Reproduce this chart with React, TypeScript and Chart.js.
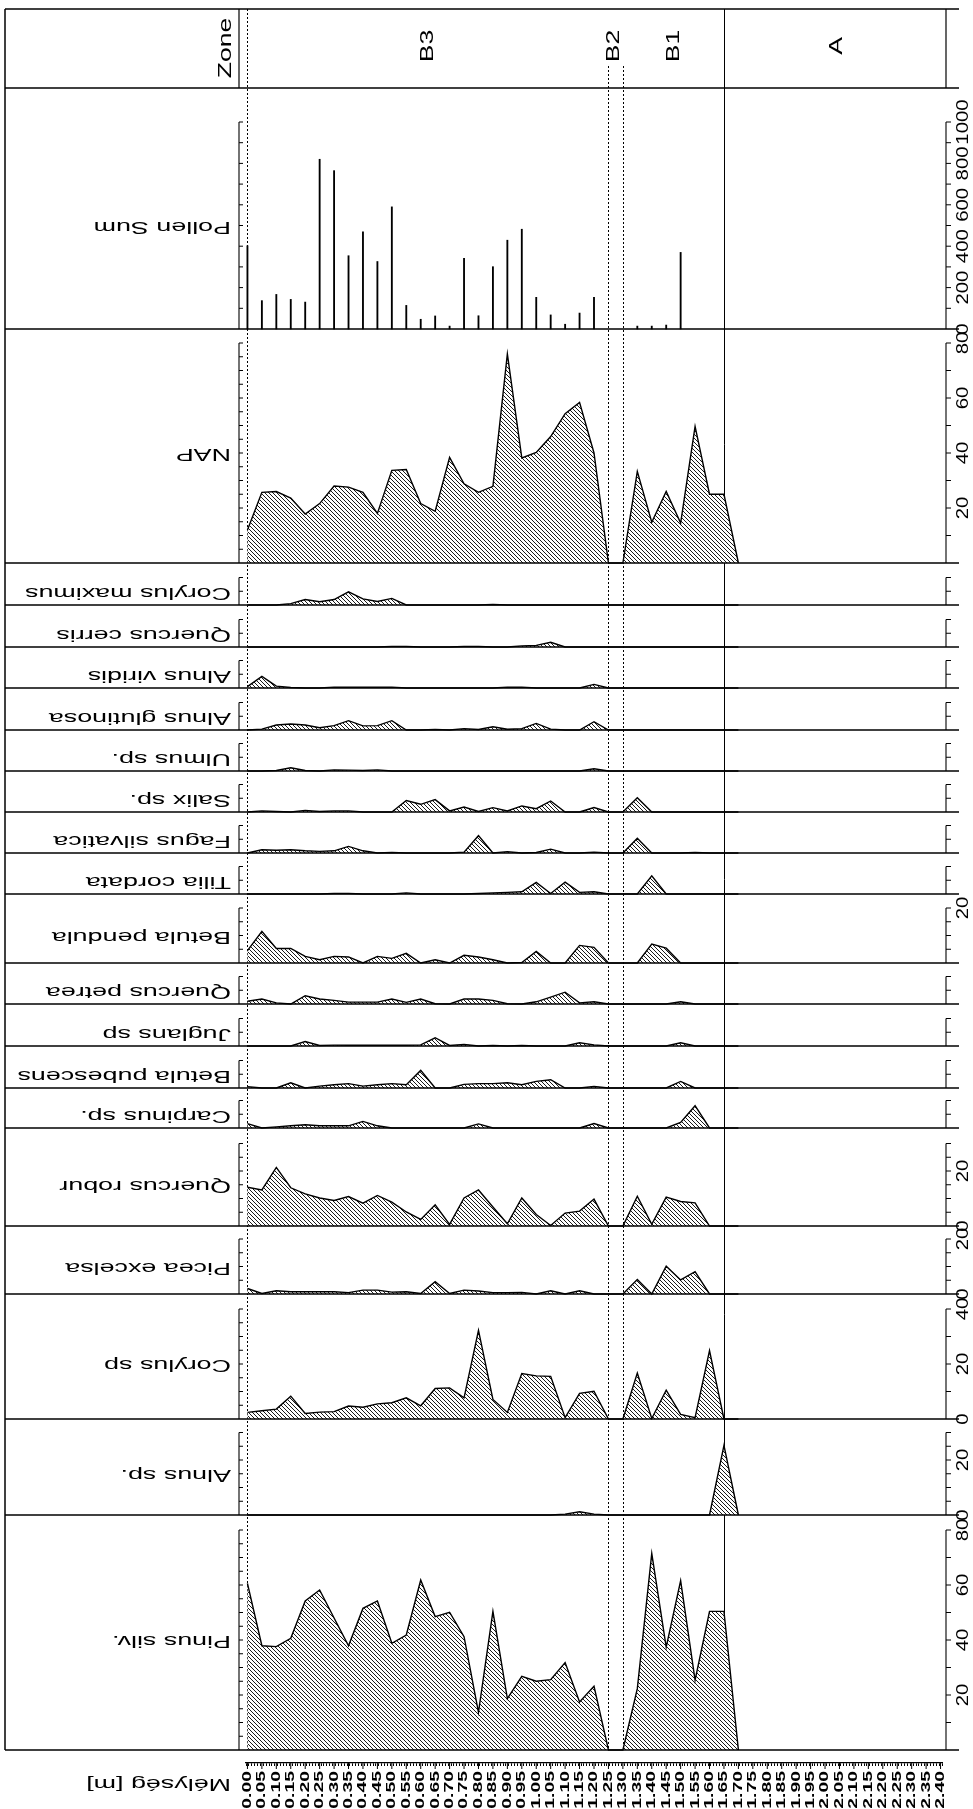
import React, { useEffect, useRef } from 'react';
import { Chart, registerables } from 'chart.js';

Chart.register(...registerables);

// ---------- DATA ----------
const depths = [0.00, 0.05, 0.10, 0.15, 0.20, 0.25, 0.30, 0.35, 0.40, 0.45, 0.50, 0.55, 0.60, 0.65, 0.70, 0.75, 0.80, 0.85, 0.90, 0.95, 1.00, 1.05, 1.10, 1.15, 1.20, 1.25, 1.30, 1.35, 1.40, 1.45, 1.50, 1.55, 1.60, 1.65, 1.70];

const depthTickLabels = ['0.00', '0.05', '0.10', '0.15', '0.20', '0.25', '0.30', '0.35', '0.40', '0.45', '0.50', '0.55', '0.60', '0.65', '0.70', '0.75', '0.80', '0.85', '0.90', '0.95', '1.00', '1.05', '1.10', '1.15', '1.20', '1.25', '1.30', '1.35', '1.40', '1.45', '1.50', '1.55', '1.60', '1.65', '1.70', '1.75', '1.80', '1.85', '1.90', '1.95', '2.00', '2.05', '2.10', '2.15', '2.20', '2.25', '2.30', '2.35', '2.40'];

const pollenSum = [402, 137, 167, 143, 130, 820, 765, 354, 469, 326, 590, 114, 47, 63, 14, 341, 64, 301, 429, 482, 153, 68, 23, 77, 153, null, null, 14, 14, 19, 370, null, null, null, null];
const nap = [12, 25.7, 26, 23.6, 17.8, 21.6, 28, 27.6, 25.7, 18, 33.7, 34, 21.6, 18.8, 38.4, 28.8, 25.7, 27.9, 76, 38.2, 40.2, 46, 54.3, 58.4, 40, 0, 0, 33.3, 14.8, 26, 14.5, 49.7, 25, 25, 0];
const corylusMaximus = [0, 0, 0, 0.5, 2.0, 1.2, 2.0, 4.8, 2.2, 1.3, 2.4, 0, 0, 0, 0, 0, 0, 0.2, 0, 0, 0, 0, 0, 0, 0, 0, 0, 0, 0, 0, 0, 0, 0, 0, 0];
const quercusCerris = [0, 0, 0, 0, 0, 0, 0, 0, 0, 0, 0.2, 0.2, 0, 0, 0, 0.2, 0.2, 0, 0, 0.4, 0.6, 1.7, 0, 0, 0, 0, 0, 0, 0, 0, 0, 0, 0, 0, 0];
const alnusViridis = [0.5, 4.2, 0.7, 0.2, 0, 0, 0.3, 0.3, 0.3, 0.3, 0.3, 0, 0, 0, 0, 0, 0, 0, 0.3, 0.3, 0, 0, 0, 0, 1.3, 0, 0, 0, 0, 0, 0, 0, 0, 0, 0];
const alnusGlutinosa = [0, 0.3, 1.8, 2.2, 1.8, 0.8, 1.6, 3.4, 1.5, 1.6, 3.4, 0, 0, 0.2, 0, 0.5, 0.2, 1.2, 0.3, 0.5, 2.4, 0.3, 0, 0, 3.0, 0, 0, 0, 0, 0, 0, 0, 0, 0, 0];
const ulmus = [0, 0, 0.2, 1.2, 0.2, 0, 0.4, 0.3, 0.2, 0.4, 0, 0, 0, 0, 0, 0, 0, 0, 0, 0, 0, 0, 0, 0, 0.8, 0, 0, 0, 0, 0, 0, 0, 0, 0, 0];
const salix = [0, 0.4, 0.2, 0, 0.6, 0.2, 0.4, 0.4, 0, 0, 0, 4.2, 2.8, 4.5, 0.4, 1.8, 0.2, 1.6, 0.4, 2.2, 1.2, 4.0, 0, 0, 1.6, 0, 0, 5.2, 0, 0, 0, 0, 0, 0, 0];
const fagus = [0, 1.2, 1.0, 1.2, 0.8, 0.6, 0.8, 2.4, 0.8, 0, 0.2, 0, 0, 0, 0, 0.3, 6.3, 0, 0.5, 0, 0.2, 1.4, 0, 0, 0.3, 0, 0, 5.4, 0, 0, 0, 0.2, 0, 0, 0];
const tilia = [0, 0, 0, 0, 0, 0, 0.2, 0.2, 0, 0, 0, 0.4, 0, 0, 0, 0, 0.2, 0.4, 0.6, 0.8, 4.2, 0.2, 4.3, 0.6, 0.8, 0, 0, 0, 6.6, 0, 0, 0, 0, 0, 0];
const betulaPendula = [4.5, 11.5, 5.3, 5.3, 2.4, 1.2, 2.4, 2.2, 0, 2.4, 1.7, 3.5, 0, 1.2, 0, 2.8, 2.2, 1.2, 0, 0.2, 4.2, 0, 0, 6.4, 5.7, 0, 0, 0, 6.9, 5.4, 0, 0, 0, 0, 0];
const quercusPetrea = [1.0, 1.8, 0.4, 0, 3.0, 1.8, 1.3, 0.7, 0.7, 0.7, 1.8, 0.6, 1.8, 0.1, 0, 1.8, 1.8, 1.3, 0.1, 0, 0.8, 2.5, 4.3, 0.4, 0.8, 0, 0, 0, 0, 0, 0.8, 0, 0, 0, 0];
const juglans = [0, 0, 0, 0, 1.6, 0.2, 0.3, 0.3, 0.3, 0.3, 0.3, 0.3, 0.4, 3.0, 0.2, 0.6, 0, 0.2, 0, 0.2, 0, 0, 0, 1.2, 0.4, 0, 0, 0, 0, 0, 1.2, 0, 0, 0, 0];
const betulaPubescens = [0.5, 0, 0, 1.9, 0, 0.7, 1.2, 1.6, 0.7, 1.2, 1.6, 1.2, 6.4, 0, 0, 1.3, 1.6, 1.6, 1.9, 1.2, 2.4, 3.0, 0, 0, 0.6, 0, 0, 0, 0, 0, 2.4, 0, 0, 0, 0];
const carpinus = [1.6, 0, 0.4, 0.8, 1.2, 0.8, 0.8, 0.8, 2.4, 0.8, 0, 0, 0, 0, 0, 0, 1.5, 0, 0, 0, 0, 0, 0, 0, 1.6, 0, 0, 0, 0, 0, 2.0, 8.1, 0, 0, 0];
const quercusRobur = [14.1, 13.1, 21.3, 13.9, 11.7, 10.2, 9.3, 10.7, 8.3, 11.1, 8.7, 5.1, 2.4, 7.7, 0.6, 10.2, 13.1, 6.9, 0.8, 10.2, 4.2, 0.2, 4.7, 5.4, 9.8, 0, 0, 10.8, 0.6, 10.5, 8.9, 8.4, 0, 0, 0];
const picea = [2.0, 0.2, 1.2, 0.8, 0.8, 0.8, 0.8, 0.5, 1.4, 1.4, 0.7, 0.8, 0.2, 4.5, 0.2, 1.4, 1.1, 0.5, 0.5, 0.6, 0, 1.2, 0, 1.2, 0, 0, 0, 5.3, 0, 10.1, 5.1, 8.1, 0, 0, 0];
const corylus = [2.4, 3.0, 3.6, 8.3, 2.0, 2.5, 2.7, 4.7, 4.3, 5.5, 5.9, 7.7, 4.8, 11.1, 11.3, 7.7, 32.2, 7.1, 2.4, 16.5, 15.7, 15.5, 0.5, 9.3, 10.1, 0, 0, 16.7, 0.2, 10.5, 1.7, 0.5, 24.9, 0, 0];
const alnus = [0, 0, 0, 0, 0, 0, 0, 0, 0, 0, 0, 0, 0, 0, 0, 0, 0, 0, 0, 0, 0, 0, 0.3, 1.2, 0.3, 0, 0, 0, 0, 0, 0, 0, 0, 25.3, 0];
const pinus = [60.6, 37.9, 37.6, 40.6, 54.2, 58.2, 48, 37.9, 51.5, 54.2, 38.8, 41.8, 61.8, 48.5, 50.1, 41.2, 13.7, 50.4, 18.7, 26.8, 25, 25.6, 31.8, 17.5, 23.2, 0, 0, 22.3, 71.5, 37.4, 61.6, 25.4, 50.4, 50.4, 0];

const taxa = ['Pollen Sum', 'NAP', 'Corylus maximus', 'Quercus cerris', 'Alnus viridis', 'Alnus glutinosa', 'Ulmus sp.', 'Salix sp.', 'Fagus silvatica', 'Tilia cordata', 'Betula pendula', 'Quercus petrea', 'Juglans sp', 'Betula pubescens', 'Carpinus sp.', 'Quercus robur', 'Picea excelsa', 'Corylus sp', 'Alnus sp.', 'Pinus silv.'];
const series = [pollenSum, nap, corylusMaximus, quercusCerris, alnusViridis, alnusGlutinosa, ulmus, salix, fagus, tilia, betulaPendula, quercusPetrea, juglans, betulaPubescens, carpinus, quercusRobur, picea, corylus, alnus, pinus];
const axisMax = [1000, 80, 10, 10, 10, 10, 10, 10, 10, 10, 20, 10, 10, 10, 10, 30, 20, 40, 30, 80];
const rightTickLabels: number[][] = [[0, 200, 400, 600, 800, 1000], [20, 40, 60, 80], [], [], [], [], [], [], [], [], [20], [], [], [], [], [0, 20], [0, 20], [0, 20, 40], [0, 20], [20, 40, 60, 80]];

const zoneNames = ['B3', 'B2', 'B1', 'A'];
const zoneLabelDepths = [0.625, 1.27, 1.475, 2.04];
const zoneBoundaryDepths = [0.0, 1.25, 1.30, 1.65];
const zoneBoundaryDotted = [true, true, true, false];

// ---------- LAYOUT ----------
const W = 973;
const H = 1809;
const PANEL_H = [241, 234, 42, 42, 41, 42, 41, 41, 41, 41, 69, 41, 42, 42, 40, 98, 68, 125, 96, 235];
const SPACER_H = 13;
const PCT_PX = 2.75;
const POLLEN_PX = 0.207;
const TOP = 88;
const ZONE_TOP = 9;
const FRAME_L = 5;
const FRAME_R = 959;
const FONT = '"Liberation Sans", Arial, sans-serif';

function makeHatch(): CanvasPattern | string {
  const c = document.createElement('canvas');
  c.width = 4;
  c.height = 4;
  const g = c.getContext('2d');
  if (!g) return '#888';
  g.fillStyle = '#fff';
  g.fillRect(0, 0, 4, 4);
  g.strokeStyle = '#000';
  g.lineWidth = 0.9;
  g.beginPath();
  g.moveTo(-1, -1); g.lineTo(5, 5);
  g.moveTo(3, -1); g.lineTo(5, 1);
  g.moveTo(-1, 3); g.lineTo(1, 5);
  g.stroke();
  return g.createPattern(c, 'repeat') || '#888';
}

function drawText(ctx: CanvasRenderingContext2D, text: string, x: number, y: number, angle: number, size: number, sx: number, align: CanvasTextAlign, bold = false) {
  ctx.save();
  ctx.translate(x, y);
  ctx.rotate(angle);
  ctx.scale(sx, 1);
  ctx.font = `${bold ? 'bold ' : ''}${size}px ${FONT}`;
  ctx.textAlign = align;
  ctx.textBaseline = 'middle';
  ctx.fillStyle = '#000';
  ctx.fillText(text, 0, 0);
  ctx.restore();
}

function line(ctx: CanvasRenderingContext2D, x1: number, y1: number, x2: number, y2: number, w = 1, dash: number[] = []) {
  ctx.save();
  ctx.strokeStyle = '#000';
  ctx.lineWidth = w;
  ctx.setLineDash(dash);
  ctx.beginPath();
  ctx.moveTo(x1, y1);
  ctx.lineTo(x2, y2);
  ctx.stroke();
  ctx.restore();
}

const diagramPlugin = {
  id: 'pollenDiagram',
  beforeDatasetsDraw(chart: any) {
    const ctx = chart.ctx as CanvasRenderingContext2D;
    const xs = chart.scales.x;
    const bottom = chart.scales['y' + (taxa.length - 1)].bottom;
    zoneBoundaryDepths.forEach((d, i) => {
      const x = Math.round(xs.getPixelForValue(d)) + 0.5;
      const top = zoneBoundaryDotted[i] && d > 0 ? 66 : ZONE_TOP;
      line(ctx, x, top, x, bottom, 1, zoneBoundaryDotted[i] ? [2, 2] : []);
    });
  },
  afterDraw(chart: any) {
    const ctx = chart.ctx as CanvasRenderingContext2D;
    const xs = chart.scales.x;
    const leftAx = xs.left - 7;
    const rightAx = xs.right + 4;
    const lastBottom = chart.scales['y' + (taxa.length - 1)].bottom;

    // frame + zone row
    line(ctx, FRAME_L, ZONE_TOP, FRAME_R, ZONE_TOP, 1.5);
    line(ctx, FRAME_L, TOP, FRAME_R, TOP, 1.5);
    line(ctx, FRAME_L, ZONE_TOP, FRAME_L, lastBottom, 1.5);
    line(ctx, leftAx, ZONE_TOP, leftAx, TOP, 1.2);
    line(ctx, rightAx, ZONE_TOP, rightAx, TOP, 1.2);
    drawText(ctx, 'Zone', 226, 48, -Math.PI / 2, 19, 1.4, 'center');
    zoneNames.forEach((z, i) => {
      drawText(ctx, z, xs.getPixelForValue(zoneLabelDepths[i]), 46, -Math.PI / 2, 19, 1.4, 'center');
    });

    taxa.forEach((name, i) => {
      const s = chart.scales['y' + i];
      const base = s.bottom;
      line(ctx, FRAME_L, base, FRAME_R, base, 1.5);
      const topPx = s.getPixelForValue(axisMax[i]);
      const lStep = i === 0 ? 100 : 5;
      const rStep = i === 0 ? 100 : axisMax[i] >= 40 ? 10 : 5;
      // left bracket
      line(ctx, leftAx, base, leftAx, topPx, 1.1);
      for (let v = lStep; v <= axisMax[i] + 1e-6; v += lStep) {
        const y = s.getPixelForValue(v);
        line(ctx, leftAx, y, leftAx + 4, y, 1);
      }
      // right axis
      line(ctx, rightAx, base, rightAx, topPx, 1.1);
      for (let v = rStep; v <= axisMax[i] + 1e-6; v += rStep) {
        const y = s.getPixelForValue(v);
        line(ctx, rightAx, y, rightAx + 5, y, 1);
      }
      rightTickLabels[i].forEach((v) => {
        drawText(ctx, String(v), 963, s.getPixelForValue(v), -Math.PI / 2, 17, 1.2, 'center');
      });
      // taxon name (upside down)
      drawText(ctx, name, 231, (base + topPx) / 2 + 1, Math.PI, 17, 1.58, 'left');
    });

    // depth labels
    depthTickLabels.forEach((lab) => {
      const x = xs.getPixelForValue(parseFloat(lab));
      line(ctx, x, xs.top, x, xs.top + 6, 1);
      drawText(ctx, lab, x, xs.top + 8, -Math.PI / 2, 12.5, 1.55, 'right', true);
    });
    drawText(ctx, 'Mélység [m]', 231, 1784, Math.PI, 17, 1.58, 'left');
  },
};

export default function App() {
  const ref = useRef<HTMLCanvasElement>(null);

  useEffect(() => {
    if (!ref.current) return;
    const hatch = makeHatch();
    const minorTicks: number[] = [];
    for (let i = 0; i <= 240; i++) minorTicks.push(i / 100);

    const scales: any = {
      x: {
        type: 'linear',
        position: 'bottom',
        min: 0,
        max: 2.4,
        afterBuildTicks: (s: any) => {
          s.ticks = minorTicks.map((v) => ({ value: v }));
        },
        afterFit: (s: any) => {
          s.height = H - 1763;
        },
        ticks: { display: false, autoSkip: false },
        grid: { drawOnChartArea: false, drawTicks: true, tickLength: 3, color: '#000', lineWidth: 1 },
        border: { display: true, color: '#000', width: 1.3 },
      },
    };
    taxa.forEach((_, i) => {
      scales['y' + i] = {
        type: 'linear',
        position: 'left',
        display: false,
        stack: 'diagram',
        stackWeight: PANEL_H[i],
        weight: 100 - i,
        min: 0,
        max: PANEL_H[i] / (i === 0 ? POLLEN_PX : PCT_PX),
      };
    });
    scales.ySpacer = {
      type: 'linear', position: 'left', display: false, stack: 'diagram', stackWeight: SPACER_H, weight: 0, min: 0, max: 1,
    };

    const datasets: any[] = series.map((vals, i) => {
      const data = depths.map((d, j) => ({ x: d, y: vals[j] }));
      if (i === 0) {
        return {
          type: 'bar', label: taxa[i], data, yAxisID: 'y0', xAxisID: 'x',
          backgroundColor: '#000', borderWidth: 0, barThickness: 1.2, clip: 5,
        };
      }
      return {
        type: 'line', label: taxa[i], data, yAxisID: 'y' + i, xAxisID: 'x',
        borderColor: '#000', borderWidth: 1.4, backgroundColor: hatch, fill: 'origin',
        pointRadius: 0, tension: 0, clip: 3,
      };
    });

    const chart = new Chart(ref.current, {
      type: 'line',
      data: { datasets },
      options: {
        responsive: false,
        animation: false,
        devicePixelRatio: 1,
        events: [],
        layout: { padding: { left: 246, right: W - 942, top: TOP, bottom: 0 } },
        plugins: { legend: { display: false }, tooltip: { enabled: false } },
        scales,
      } as any,
      plugins: [diagramPlugin],
    } as any);
    return () => chart.destroy();
  }, []);

  return (
    <div style={{ position: 'absolute', left: 0, top: 0, width: W, height: H, background: '#fff' }}>
      <canvas ref={ref} width={W} height={H} style={{ display: 'block', width: W, height: H }} />
    </div>
  );
}
